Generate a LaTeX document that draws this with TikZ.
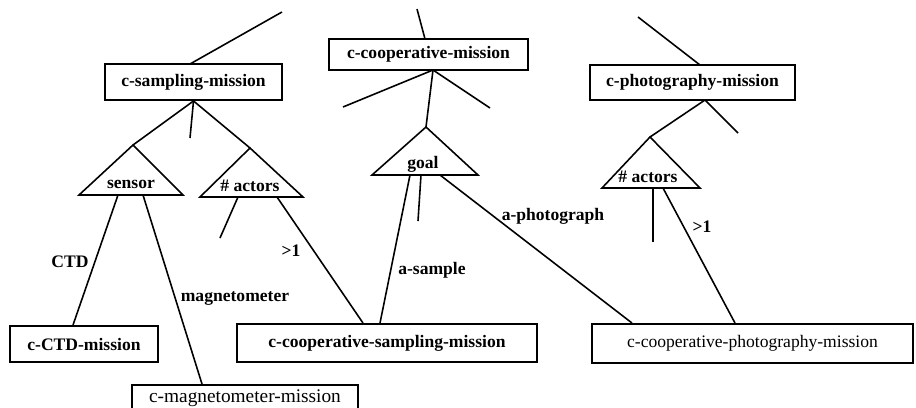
\documentclass[tikz,border=0pt]{standalone}
\usepackage{fontspec}
\setmainfont{Liberation Serif}
\usetikzlibrary{positioning, calc}

\tikzset{
    mbox/.style={draw, line width=1.1pt, inner sep=0pt, font=\bfseries},
    pbox/.style={draw, line width=1.1pt, inner sep=0pt},
    tri/.style={draw, line width=0.9pt, line join=miter},
    link/.style={line width=0.9pt},
    lbl/.style={font=\bfseries, inner sep=1pt}
}

\begin{document}
\begin{tikzpicture}[x=0.02cm, y=-0.02cm]
    \clip (0,0) rectangle (916,407);

    % mission boxes
    \node[mbox, minimum width=3.54cm, minimum height=0.72cm] (smp) at (193.5,82) {c-sampling-mission};
    \node[mbox, minimum width=3.98cm, minimum height=0.62cm] (coop) at (428.5,54.5) {c-cooperative-mission};
    \node[mbox, minimum width=4.10cm, minimum height=0.70cm] (pho) at (692.5,82.5) {c-photography-mission};
    \node[mbox, minimum width=2.96cm, minimum height=0.72cm] (ctd) at (84,344) {c-CTD-mission};
    \node[mbox, minimum width=6.00cm, minimum height=0.76cm] (csmp) at (387,343) {c-cooperative-sampling-mission};
    \node[pbox, minimum width=6.42cm, minimum height=0.78cm] (cpho) at (752.5,343.5) {c-cooperative-photography-mission};
    \node[pbox, minimum width=4.52cm, minimum height=0.52cm, font=\fontsize{11}{12}\selectfont] (cmag) at (245,398) {c-magnetometer-mission};

    % slot triangles
    \draw[tri] (133,145) coordinate (sens) -- (79,195) -- (183,195) -- cycle;
    \node[lbl] (senst) at (131,184) {sensor};
    \draw[tri] (250,148) coordinate (act) -- (200,197) -- (303,197) -- cycle;
    \node[lbl] (actt) at (250,186) {\# actors};
    \draw[tri] (426,127) coordinate (goal) -- (372,175) -- (478,175) -- cycle;
    \node[lbl] (goalt) at (423,164) {goal};
    \draw[tri] (650,137) coordinate (actb) -- (602,188) -- (700,188) -- cycle;
    \node[lbl] (actbt) at (648,177) {\# actors};

    % loose ends
    \coordinate (e1) at (282,12);
    \coordinate (e2) at (190,138);
    \coordinate (e3) at (417,9);
    \coordinate (e4) at (343,107);
    \coordinate (e5) at (490,108);
    \coordinate (e6) at (638,17);
    \coordinate (e7) at (738,133);
    \coordinate (e8) at (220,238);
    \coordinate (e9) at (418,221);
    \coordinate (e10) at (653,242);

    % links
    \draw[link] (190,64) -- (e1);
    \draw[link] (smp.south) -- (sens);
    \draw[link] (smp.south) -- (act);
    \draw[link] (smp.south) -- (e2);
    \draw[link] (425,39) -- (e3);
    \draw[link] (433,70) -- (e4);
    \draw[link] (433,70) -- (e5);
    \draw[link] (433,70) -- (goal);
    \draw[link] (700,65) -- (e6);
    \draw[link] (705,100) -- (actb);
    \draw[link] (705,100) -- (e7);

    \draw[link] (118,195) -- (ctd.north -| 73,0);
    \draw[link] (143,195) -- (cmag.north -| 202,0);
    \draw[link] (238,197) -- (e8);
    \draw[link] (277,197) -- (csmp.north -| 363,0);
    \draw[link] (410,175) -- (csmp.north -| 380,0);
    \draw[link] (421,175) -- (e9);
    \draw[link] (440,175) -- (cpho.north -| 632,0);
    \draw[link] (653,188) -- (e10);
    \draw[link] (663,188) -- (cpho.north -| 735,0);

    % link labels
    \node[lbl] (lctd) at (70,262) {CTD};
    \node[lbl] (lmag) at (235,298) {magnetometer};
    \node[lbl] (lgt1) at (291,251) {>1};
    \node[lbl] (lsmp) at (432,270) {a-sample};
    \node[lbl] (lpho) at (553,216) {a-photograph};
    \node[lbl] (lgt2) at (702,227) {>1};
\end{tikzpicture}
\end{document}
